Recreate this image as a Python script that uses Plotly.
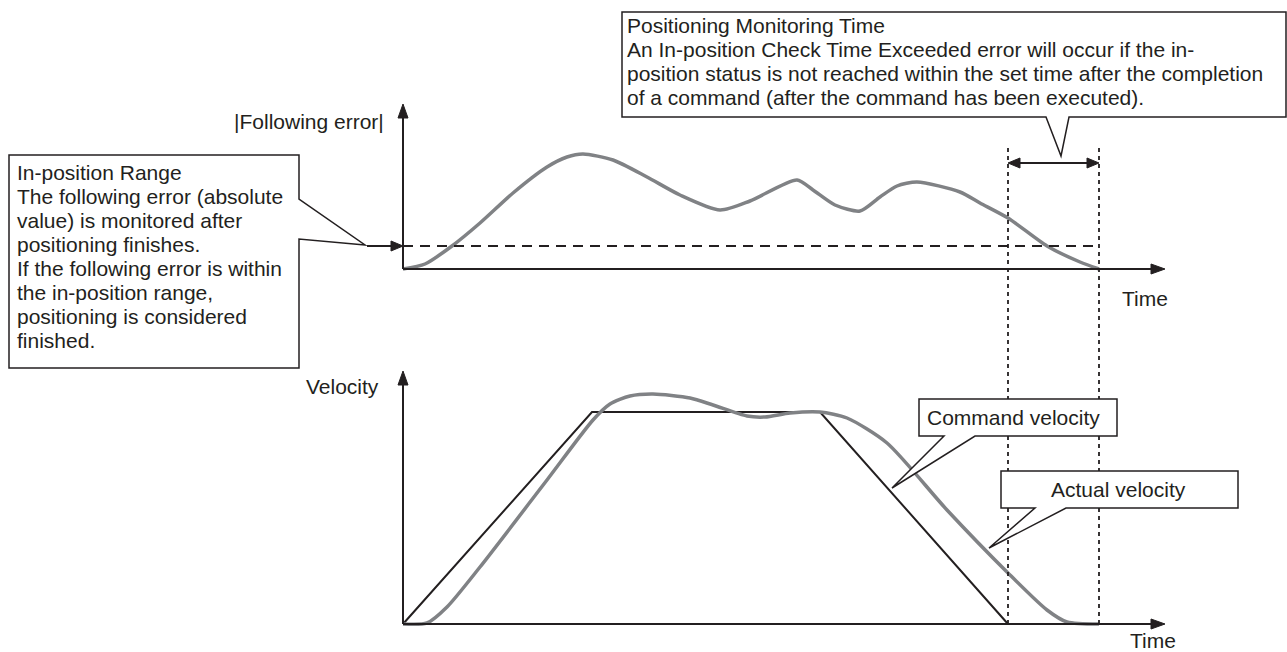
"""
Positioning monitoring diagram: following error and velocity profiles.
"""

import plotly.graph_objects as go

INK = "#231f20"
GREY = "#808285"
FONT = "Liberation Sans, Arial, sans-serif"

# |Following error| curve (upper panel), canvas px
err_x = [403, 425, 452, 480, 513, 547, 567, 583, 613, 647, 680, 720, 750, 797, 813, 835, 860, 880, 897, 917, 960, 980, 1008, 1047, 1080, 1099]
err_y = [269, 264, 246, 223, 193, 167, 157, 154, 160, 177, 195, 210, 201, 180, 190, 205, 211, 197, 186, 182, 192, 203, 218, 246, 262, 269]

# Command velocity (trapezoid) and actual velocity (lower panel)
cmd_x = [403, 592, 820, 1008]
cmd_y = [624, 412, 412, 624]
act_x = [403, 427, 447, 480, 547, 593, 610, 630, 653, 690, 713, 747, 765, 790, 820, 847, 887, 947, 1008, 1047, 1067, 1099]
act_y = [624, 623, 607, 567, 480, 420, 404, 396, 394, 398, 405, 416, 417, 413, 412, 418, 443, 510, 573, 610, 622, 624]

# Axes origins / ends
top_origin = (403, 269)
top_axis_end = (1165, 104)
bot_origin = (403, 624)
bot_axis_end = (1165, 371)
inpos_y = 246
inpos_x_end = 1099
monitor_x = [1008, 1099]
monitor_y = (148, 624)
span_y = 163

# Callout outlines (polygon vertices)
box_inpos = [(9, 155), (299, 155), (299, 199), (365, 245), (299, 239), (299, 368), (9, 368)]
box_monitor = [(622, 12), (1286, 12), (1286, 117), (1069, 117), (1061, 156), (1046, 117), (622, 117)]
box_cmd = [(919, 399), (1117, 399), (1117, 436), (975, 436), (892, 488), (944, 436), (919, 436)]
box_act = [(1001, 471), (1238, 471), (1238, 508), (1066, 508), (989, 548), (1035, 508), (1001, 508)]

inpos_lines = ["In-position Range", "The following error (absolute", "value) is monitored after",
               "positioning finishes.", "If the following error is within", "the in-position range,",
               "positioning is considered", "finished."]
monitor_lines = ["Positioning Monitoring Time",
                 "An In-position Check Time Exceeded error will occur if the in-",
                 "position status is not reached within the set time after the completion",
                 "of a command (after the command has been executed)."]

fig = go.Figure()


def poly(pts, fill="white", width=1.5, color=INK):
    d = "M " + " L ".join(f"{x},{y}" for x, y in pts) + " Z"
    fig.add_shape(type="path", path=d, xref="x", yref="y", fillcolor=fill,
                  line=dict(color=color, width=width), layer="above")


def seg(x0, y0, x1, y1, width=2, dash="solid", color=INK):
    fig.add_shape(type="line", x0=x0, y0=y0, x1=x1, y1=y1, xref="x", yref="y",
                  line=dict(color=color, width=width, dash=dash), layer="above")


def head(tip, direction, length=14, half=5):
    # filled triangular arrowhead
    x, y = tip
    if direction == "up":
        pts = [(x, y), (x - half, y + length), (x + half, y + length)]
    elif direction == "right":
        pts = [(x, y), (x - length, y - half), (x - length, y + half)]
    else:
        pts = [(x, y), (x + length, y - half), (x + length, y + half)]
    poly(pts, fill=INK, width=1, color=INK)


# curves
fig.add_trace(go.Scatter(x=err_x, y=err_y, mode="lines", line=dict(color=GREY, width=3.5, shape="spline", smoothing=0.7)))
fig.add_trace(go.Scatter(x=cmd_x, y=cmd_y, mode="lines", line=dict(color=INK, width=2)))
fig.add_trace(go.Scatter(x=act_x, y=act_y, mode="lines", line=dict(color=GREY, width=3.5, shape="spline", smoothing=0.7)))

# monitoring time guides
for mx in monitor_x:
    seg(mx, monitor_y[0], mx, monitor_y[1], width=1.8, dash="4px,4px")

# in-position range
seg(top_origin[0], inpos_y, inpos_x_end, inpos_y, width=1.8, dash="10px,7px")
seg(367, inpos_y, 392, inpos_y, width=2)
head((top_origin[0], inpos_y), "right", length=12, half=5)

# axes
seg(top_origin[0], top_origin[1], top_origin[0], top_axis_end[1] + 10)
seg(top_origin[0], top_origin[1], top_axis_end[0] - 10, top_origin[1])
head((top_origin[0], top_axis_end[1]), "up")
head((top_axis_end[0], top_origin[1]), "right")
seg(bot_origin[0], bot_origin[1], bot_origin[0], bot_axis_end[1] + 10)
seg(bot_origin[0], bot_origin[1], bot_axis_end[0] - 10, bot_origin[1])
head((bot_origin[0], bot_axis_end[1]), "up")
head((bot_axis_end[0], bot_origin[1]), "right")

# span arrow
seg(monitor_x[0] + 8, span_y, monitor_x[1] - 8, span_y, width=2)
head((monitor_x[0], span_y), "left", length=12)
head((monitor_x[1], span_y), "right", length=12)

# callouts
for b in (box_inpos, box_monitor, box_cmd, box_act):
    poly(b)


def label(x, y, text, anchor="left"):
    fig.add_annotation(x=x, y=y, xref="x", yref="y", text=text, showarrow=False,
                       xanchor=anchor, yanchor="middle",
                       font=dict(family=FONT, size=21, color=INK))


for i, t in enumerate(inpos_lines):
    label(15, 172 + 24 * i, t)
for i, t in enumerate(monitor_lines):
    label(625, 25 + 24 * i, t)
label(925, 417, "Command velocity")
label(1049, 489, "Actual velocity")
label(386, 121, "|Following error|", anchor="right")
label(381, 386, "Velocity", anchor="right")
label(1120, 298, "Time")
label(1128, 640, "Time")

fig.update_layout(
    width=1287, height=652,
    margin=dict(l=0, r=0, t=0, b=0),
    paper_bgcolor="white", plot_bgcolor="white",
    showlegend=False,
    xaxis=dict(range=[0, 1287], visible=False, fixedrange=True),
    yaxis=dict(range=[652, 0], visible=False, fixedrange=True),
)

# page body has a default 8px margin; drop it so the canvas sits at 0,0
fig.write_html("out.html", config={"displayModeBar": False},
               post_script="document.body.style.margin='0';")
